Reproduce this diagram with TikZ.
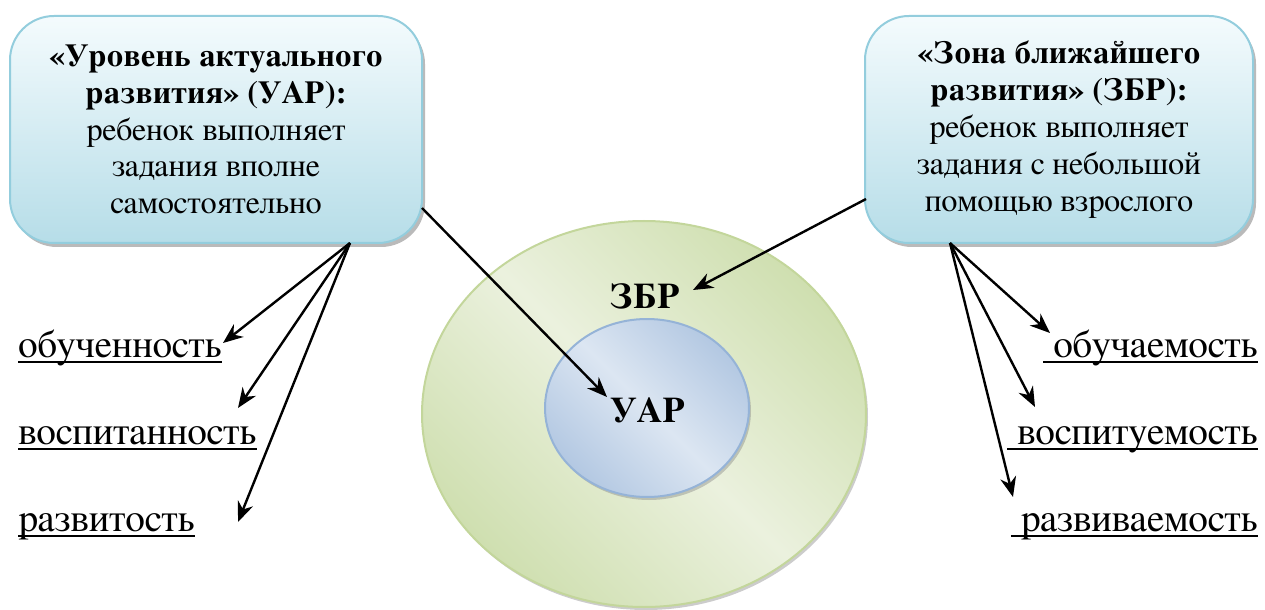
\documentclass[tikz,border=0pt]{standalone}
\usepackage{fontspec}
\setmainfont{FreeSerif}
\usetikzlibrary{shapes.geometric,shadows,arrows.meta}
\definecolor{boxtop}{HTML}{F4FBFD}
\definecolor{boxbot}{HTML}{B6DDE8}
\definecolor{boxline}{HTML}{93CDDD}
\definecolor{zbrdark}{HTML}{CFDFB0}
\definecolor{zbrlight}{HTML}{EBF1DE}
\definecolor{zbrline}{HTML}{C3D69B}
\definecolor{uardark}{HTML}{B3C8E2}
\definecolor{uarlight}{HTML}{DCE6F2}
\definecolor{uarline}{HTML}{95B3D7}

\begin{document}
\begin{tikzpicture}[x=0.5pt, y=-0.5pt]
	\tikzstyle{every node} = [font=\fontsize{16}{18.4}\selectfont]
	\tikzstyle{infobox} = [rounded corners=22pt, draw=boxline, line width=1pt, top color=boxtop, bottom color=boxbot, minimum height=113.5pt, align=center, drop shadow={shadow xshift=1.5pt, shadow yshift=-2pt, fill=black!45, opacity=0.6}]
	\tikzstyle{zone} = [ellipse, line width=1pt, drop shadow={shadow xshift=1pt, shadow yshift=-1.5pt, opacity=0.4}]
	\tikzstyle{quality} = [inner sep=0pt, font=\fontsize{19.5}{21}\selectfont]
	\tikzstyle{pointer} = [-{Stealth[length=10pt, width=8pt]}, line width=1.2pt]
	\useasboundingbox (0,0) rectangle (1265,610);
	\node (ZBRzone) [zone, draw=zbrline, minimum width=222pt, minimum height=193pt, top color=zbrdark, bottom color=zbrdark, middle color=zbrlight, shading angle=-45] at (644,414) {};
	\node (UARzone) [zone, draw=uarline, minimum width=102pt, minimum height=89pt, top color=uardark, bottom color=uardark, middle color=uarlight, shading angle=-45] at (647,408) {};
	\node (ZBR) [font=\fontsize{18}{20}\selectfont\bfseries] at (645,296) {ЗБР};
	\node (UAR) [font=\fontsize{18}{20}\selectfont\bfseries] at (648,410) {УАР};
	\node (UARbox) [infobox, minimum width=206pt] at (216,129.5) {\textbf{«Уровень актуального}\\\textbf{развития» (УАР):}\\ребенок выполняет\\задания вполне\\самостоятельно};
	\node (ZBRbox) [infobox, minimum width=194pt] at (1059,129.5) {\textbf{«Зона ближайшего}\\\textbf{развития» (ЗБР):}\\ребенок выполняет\\задания с небольшой\\помощью взрослого};
	\node (obuch) [quality, anchor=base west] at (18,357) {обученность\ };
	\node (vospit) [quality, anchor=base west] at (18,444) {воспитанность\ };
	\node (razvit) [quality, anchor=base west] at (18,531) {развитость\ };
	\node (obuchaem) [quality, anchor=base east] at (1258,357) {\ обучаемость};
	\node (vospitu) [quality, anchor=base east] at (1258,444) {\ воспитуемость};
	\node (razviva) [quality, anchor=base east] at (1258,531) {\ развиваемость};
	% underlines
	\foreach \q in {obuch,vospit,razvit,obuchaem,vospitu,razviva}
		\draw [line width=0.9pt] ([yshift=-2.5pt]\q.base west)--([yshift=-2.5pt]\q.base east);
	\coordinate (UARout) at (422,208);
	\coordinate (UARfan) at (350,243);
	\coordinate (ZBRout) at (866,199);
	\coordinate (ZBRfan) at (950,243);
	\coordinate (tipA) at (223,343);
	\coordinate (tipB) at (238,408);
	\coordinate (tipC) at (238,522);
	\coordinate (tipD) at (1050,333);
	\coordinate (tipE) at (1035,407);
	\coordinate (tipF) at (1013,497);
	\coordinate (tipUAR) at (607,397);
	\coordinate (tipZBR) at (693,290);
	\draw [pointer] (UARout)--(tipUAR);
	\draw [pointer] (ZBRout)--(tipZBR);
	\draw [pointer] (UARfan)--(tipA);
	\draw [pointer] (UARfan)--(tipB);
	\draw [pointer] (UARfan)--(tipC);
	\draw [pointer] (ZBRfan)--(tipD);
	\draw [pointer] (ZBRfan)--(tipE);
	\draw [pointer] (ZBRfan)--(tipF);
\end{tikzpicture}
\end{document}
